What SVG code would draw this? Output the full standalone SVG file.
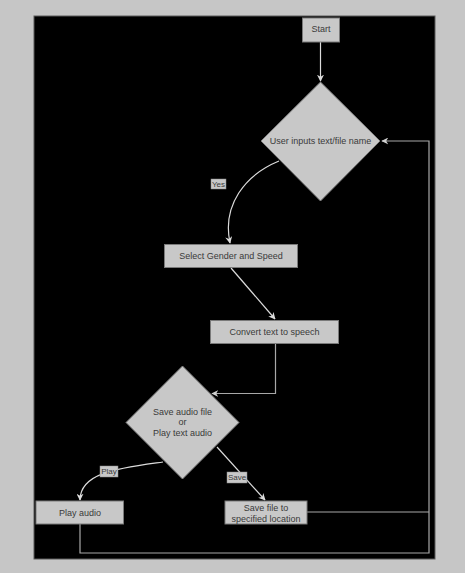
<svg xmlns="http://www.w3.org/2000/svg" width="465" height="573" viewBox="0 0 465 573">
<defs>
<style>
.node{fill:#c8c8c8;stroke:#7a7a7a;stroke-width:1}
.t{font-family:"Liberation Sans",Arial,sans-serif;font-size:9px;fill:#3a3a3a;text-anchor:middle;dominant-baseline:central}
.lt{font-family:"Liberation Sans",Arial,sans-serif;font-size:8px;fill:#3a3a3a;text-anchor:middle;dominant-baseline:central}
.lbl{fill:#c8c8c8;stroke:#8a8a8a;stroke-width:0.5}
.c{fill:none;stroke:#dcdcdc;stroke-width:1.2}
.c2{fill:none;stroke:#a8a8a8;stroke-width:1.2}
</style>
<marker id="ah" viewBox="0 0 10 10" refX="9" refY="5" markerWidth="7" markerHeight="7" markerUnits="userSpaceOnUse" orient="auto">
<path d="M0,0 L10,5 L0,10 L3,5 Z" fill="#dcdcdc"/>
</marker>
<marker id="ah2" viewBox="0 0 10 10" refX="9" refY="5" markerWidth="7" markerHeight="7" markerUnits="userSpaceOnUse" orient="auto">
<path d="M0,0 L10,5 L0,10 L3,5 Z" fill="#d0d0d0"/>
</marker>
</defs>
<rect x="0" y="0" width="465" height="573" fill="#c6c6c6"/>
<rect x="34" y="16" width="401" height="543" fill="#000" stroke="#5a5a5a" stroke-width="1"/>

<g id="connectors">
<path class="c" d="M320.5,42 L320.5,81" marker-end="url(#ah)"/>
<path class="c" d="M279,161 C245,175 222,205 230,243" marker-end="url(#ah)"/>
<path class="c" d="M231,268 L275,319" marker-end="url(#ah)"/>
<path class="c2" d="M275.5,343 L275.5,393.5 L212,393.5" marker-end="url(#ah2)"/>
<path class="c" d="M163,462 C120,468 80,472 80,500" marker-end="url(#ah)"/>
<path class="c" d="M217,447 L265,500" marker-end="url(#ah)"/>
<path class="c2" d="M307,512 L429,512"/>
<path class="c2" d="M80,524 L80,553 L429,553 L429,141 L382,141" marker-end="url(#ah2)"/>
<g id="label-yes">
<rect class="lbl" x="211" y="179" width="15" height="10"/>
<text class="lt" x="218.5" y="184">Yes</text>
</g>
<g id="label-play">
<rect class="lbl" x="100" y="466" width="18" height="11"/>
<text class="lt" x="109" y="471.5">Play</text>
</g>
<g id="label-save">
<rect class="lbl" x="227" y="472" width="20" height="11"/>
<text class="lt" x="237" y="477.5">Save</text>
</g>
</g>

<g id="start">
<rect class="node" x="302.5" y="18" width="37" height="24"/>
<text class="t" x="321" y="29">Start</text>
</g>
<g id="input">
<polygon class="node" points="320.5,82 380,141 320.5,201 261,141"/>
<text class="t" x="320.5" y="141">User inputs text/file name</text>
</g>
<g id="select">
<rect class="node" x="164.5" y="244.5" width="133" height="23"/>
<text class="t" x="231" y="256">Select Gender and Speed</text>
</g>
<g id="convert">
<rect class="node" x="210.5" y="320.5" width="128" height="23"/>
<text class="t" x="274.5" y="332">Convert text to speech</text>
</g>
<g id="choice">
<polygon class="node" points="182.5,366 239,422.5 182.5,479 126,422.5"/>
<text class="t" x="182.5" y="412">Save audio file</text>
<text class="t" x="182.5" y="422">or</text>
<text class="t" x="182.5" y="433">Play text audio</text>
</g>
<g id="play">
<rect class="node" x="36" y="501" width="87.5" height="23"/>
<text class="t" x="80" y="512.5">Play audio</text>
</g>
<g id="save">
<rect class="node" x="225" y="501" width="82" height="23"/>
<text class="t" x="266" y="507.5">Save file to</text>
<text class="t" x="266" y="518.5">specified location</text>
</g>
</svg>
